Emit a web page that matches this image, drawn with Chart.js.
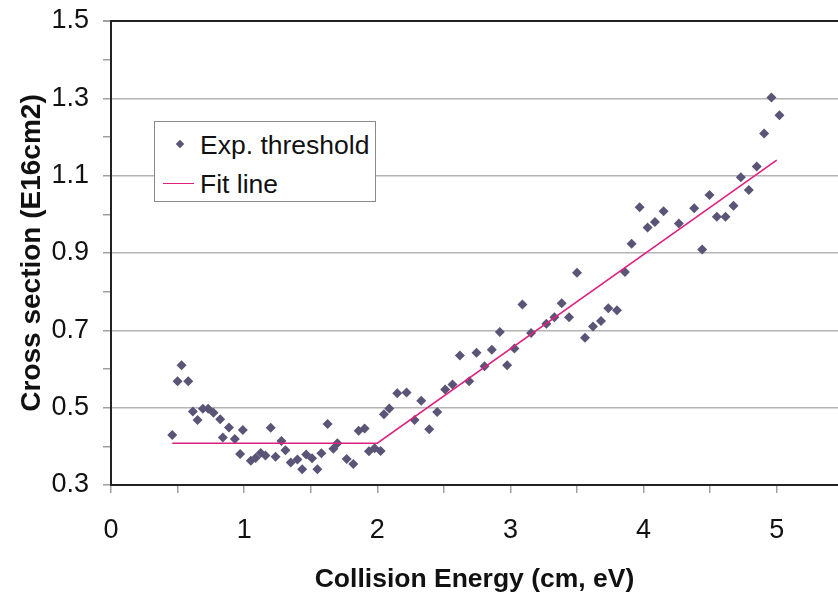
<!DOCTYPE html>
<html>
<head>
<meta charset="utf-8">
<script src="https://cdn.jsdelivr.net/npm/chart.js@4/dist/chart.umd.min.js"></script>
<style>
  body { margin: 0; background: #fff; overflow: hidden; }
  #wrap { position: relative; width: 838px; height: 594px; overflow: hidden; }
  #legend {
    position: absolute; left: 154px; top: 121px; width: 220px; height: 79px;
    border: 1px solid #8a8a8a; background: #fff;
    font-family: "Liberation Sans", Arial, sans-serif; font-size: 26.5px; color: #111;
  }
  .row { position: absolute; left: 0; height: 30px; line-height: 30px; }
  .row span.txt { position: absolute; left: 45px; white-space: nowrap; }
  .dia { position: absolute; left: 22px; top: 11px; width: 6px; height: 6px; background: #5a5476; transform: rotate(45deg); }
  .ln { position: absolute; left: 8px; top: 14px; width: 31px; border-top: 1.5px solid #e0207f; }
</style>
</head>
<body>
<div id="wrap">
  <canvas id="myChart" width="843" height="594"></canvas>
  <div id="legend">
    <div class="row" style="top:8px"><i class="dia"></i><span class="txt">Exp. threshold</span></div>
    <div class="row" style="top:47px"><i class="ln"></i><span class="txt">Fit line</span></div>
  </div>
</div>
<script>
// measured points (Exp. threshold)
const expX = [0.46, 0.50, 0.53, 0.58, 0.615, 0.65, 0.69, 0.73, 0.77, 0.82, 0.84, 0.886, 0.93, 0.97, 0.99,
  1.05, 1.086, 1.124, 1.16, 1.20, 1.236, 1.28, 1.31, 1.35, 1.40, 1.436, 1.466, 1.51, 1.55, 1.58, 1.627,
  1.67, 1.70, 1.77, 1.82, 1.86, 1.905, 1.937, 1.98, 2.025, 2.05, 2.09, 2.15, 2.22, 2.28, 2.33, 2.39,
  2.45, 2.51, 2.565, 2.62, 2.69, 2.745, 2.805, 2.86, 2.92, 2.975, 3.03, 3.09, 3.155, 3.27, 3.33, 3.385,
  3.44, 3.50, 3.56, 3.62, 3.68, 3.735, 3.80, 3.86, 3.91, 3.97, 4.03, 4.085, 4.15, 4.265, 4.38, 4.44,
  4.495, 4.55, 4.615, 4.675, 4.73, 4.79, 4.85, 4.905, 4.96, 5.02];
const expY = [0.429, 0.568, 0.610, 0.568, 0.490, 0.468, 0.497, 0.497, 0.487, 0.470, 0.423, 0.449, 0.419, 0.380, 0.442,
  0.363, 0.370, 0.383, 0.376, 0.448, 0.373, 0.414, 0.390, 0.358, 0.366, 0.341, 0.379, 0.369, 0.341, 0.382, 0.458,
  0.394, 0.408, 0.367, 0.354, 0.440, 0.446, 0.387, 0.395, 0.388, 0.483, 0.498, 0.537, 0.539, 0.468, 0.518, 0.444,
  0.489, 0.547, 0.560, 0.635, 0.568, 0.642, 0.607, 0.650, 0.696, 0.610, 0.653, 0.767, 0.693, 0.717, 0.734, 0.770,
  0.734, 0.849, 0.681, 0.710, 0.724, 0.757, 0.752, 0.851, 0.924, 1.018, 0.966, 0.980, 1.008, 0.976, 1.016, 0.909,
  1.050, 0.994, 0.994, 1.022, 1.096, 1.063, 1.124, 1.209, 1.302, 1.256];

// fit line corners
const fitX = [0.46, 2.0, 5.0];
const fitY = [0.408, 0.408, 1.14];

// axis ticks (minor ticks have empty labels)
const xTickValues = [0, 0.5, 1, 1.5, 2, 2.5, 3, 3.5, 4, 4.5, 5];
const xTickLabels = ["0", "", "1", "", "2", "", "3", "", "4", "", "5"];
const yTickValues = [0.3, 0.4, 0.5, 0.6, 0.7, 0.8, 0.9, 1.0, 1.1, 1.2, 1.3, 1.4, 1.5];
const yTickLabels = ["0.3", "", "0.5", "", "0.7", "", "0.9", "", "1.1", "", "1.3", "", "1.5"];

const FONT = "'Liberation Sans', Arial, sans-serif";

const ctx = document.getElementById("myChart").getContext("2d");

new Chart(ctx, {
  type: "scatter",
  data: {
    datasets: [
      {
        label: "Exp. threshold",
        data: expX.map((x, i) => ({ x, y: expY[i] })),
        pointStyle: "rectRot",
        pointRadius: 5,
        backgroundColor: "#5a5476",
        borderColor: "#5a5476",
        borderWidth: 0,
        order: 1,
      },
      {
        type: "line",
        label: "Fit line",
        data: fitX.map((x, i) => ({ x, y: fitY[i] })),
        borderColor: "#e0207f",
        borderWidth: 1.6,
        pointRadius: 0,
        fill: false,
        order: 0,
      },
    ],
  },
  options: {
    responsive: false,
    animation: false,
    layout: { padding: { top: 21, right: 0, left: 0, bottom: 0 } },
    scales: {
      x: {
        type: "linear",
        min: 0,
        max: 5.46,
        afterBuildTicks: (scale) => { scale.ticks = xTickValues.map((v) => ({ value: v })); },
        afterFit: (scale) => {
          scale.height = 109;
          scale.paddingLeft = 0;
          scale.paddingRight = 0;
        },
        border: { color: "#222", width: 2 },
        grid: { drawOnChartArea: false, tickLength: 8, tickColor: "#a0a0a0", lineWidth: 1.5 },
        ticks: {
          autoSkip: false,
          maxRotation: 0,
          padding: 21,
          color: "#111",
          font: { family: FONT, size: 27 },
          callback: (v, i) => xTickLabels[i],
        },
        title: {
          display: true,
          text: "Collision Energy (cm, eV)",
          color: "#111",
          font: { family: FONT, size: 26.5, weight: "bold", lineHeight: 1.1 },
          padding: { top: 0, bottom: 0 },
        },
      },
      y: {
        min: 0.3,
        max: 1.5,
        afterBuildTicks: (scale) => { scale.ticks = yTickValues.map((v) => ({ value: v })); },
        afterFit: (scale) => {
          scale.width = 111;
          scale.paddingTop = 0;
          scale.paddingBottom = 0;
        },
        border: { color: "#222", width: 2 },
        grid: {
          tickLength: 8,
          tickColor: "#a0a0a0",
          lineWidth: (c) => (c.index === yTickValues.length - 1 ? 2 : 1.5),
          color: (c) => {
            if (c.index === yTickValues.length - 1) return "#222";
            return yTickLabels[c.index] ? "#b4b4b4" : "rgba(0,0,0,0)";
          },
        },
        ticks: {
          autoSkip: false,
          padding: 14,
          color: "#111",
          font: { family: FONT, size: 27 },
          callback: (v, i) => yTickLabels[i],
        },
        title: {
          display: true,
          text: "Cross section (E16cm2)",
          color: "#111",
          font: { family: FONT, size: 28, weight: "bold", lineHeight: 1.1 },
          padding: { top: 17, bottom: 0 },
        },
      },
    },
    plugins: {
      legend: { display: false },
      tooltip: { enabled: false },
    },
  },
});
</script>
</body>
</html>
